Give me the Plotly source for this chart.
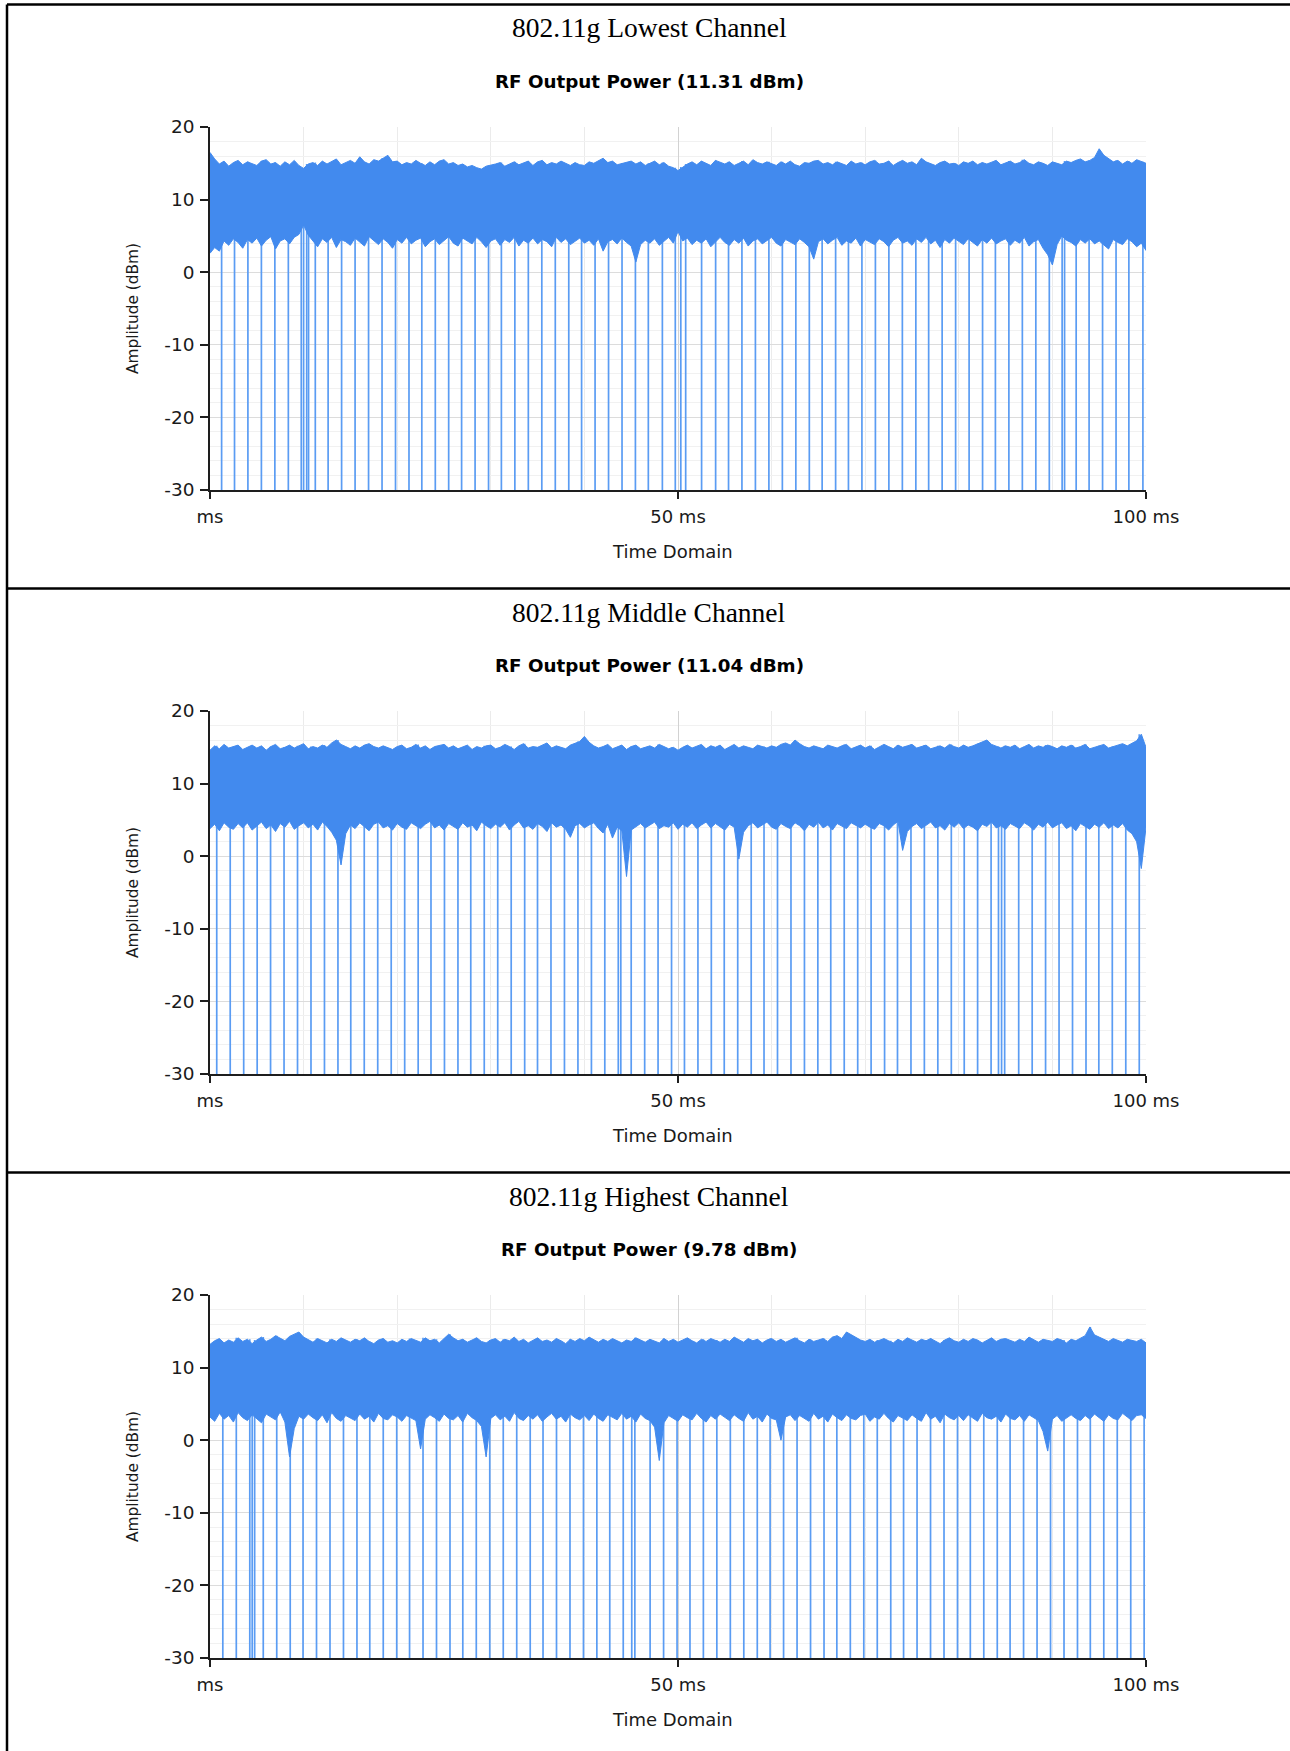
import plotly.graph_objects as go

# ---------------- data ----------------
time_ms = [k / 2 for k in range(201)]     # envelope sample times, 0..100 ms every 0.5 ms

# Lowest channel: upper / lower edge of the noise band (dBm), drop-out times (ms)
upper_low = [16.5, 15.6, 14.9, 15.3, 14.6, 15.1, 15.4, 14.8, 15.2, 15.0,
             14.7, 15.3, 15.5, 14.9, 15.1, 14.6, 15.2, 14.8, 15.4, 14.7,
             14.3, 14.9, 15.1, 14.7, 15.3, 14.9, 15.2, 15.6, 14.8, 15.1,
             15.4, 15.0, 15.9, 15.2, 14.9, 15.5, 15.3, 15.7, 16.1, 15.2,
             15.3, 14.8, 15.1, 14.9, 15.4, 15.0, 14.7, 15.2, 14.8, 15.3,
             15.5, 14.9, 15.1, 14.7, 14.9, 14.5, 14.7, 14.4, 14.2, 14.6,
             14.7, 14.9, 15.1, 14.6, 14.9, 15.2, 14.8, 15.0, 15.3, 14.7,
             15.2, 15.4, 14.8, 15.1, 14.9, 15.3, 15.0, 14.7, 15.1, 14.8,
             14.7, 15.2, 15.0, 15.4, 15.7, 15.1, 15.3, 14.8, 15.0, 15.2,
             15.3, 14.9, 15.2, 14.7, 15.0, 15.3, 14.8, 15.1, 14.6, 14.4,
             14.0, 14.5, 14.9, 15.2, 14.8, 15.3, 15.0, 14.7, 15.4, 15.1,
             14.9, 15.2, 14.7, 15.0, 15.3, 14.8, 15.5, 15.1, 14.9, 15.2,
             15.0, 14.7, 15.2, 14.9, 15.3, 14.8, 14.6, 15.1, 15.0, 15.3,
             15.4, 14.9, 15.1, 14.8, 15.2, 15.0, 14.7, 15.3, 14.9, 15.1,
             14.8, 15.2, 15.4, 14.9, 15.0, 15.3, 14.7, 15.1, 15.4, 15.0,
             15.2, 14.8, 15.7, 15.2, 15.0, 14.7, 15.1, 15.3, 14.9, 15.0,
             14.7, 15.2, 15.0, 15.3, 14.8, 15.1, 14.9, 15.2, 15.4, 14.8,
             15.0, 15.3, 14.9, 15.1, 15.5, 15.0, 14.8, 15.2, 15.0, 14.7,
             15.2, 15.0, 14.8, 15.3, 15.1, 15.4, 15.6, 15.2, 15.4, 15.8,
             17.0, 16.1, 15.6, 15.2, 15.4, 14.9, 15.3, 15.0, 15.5, 15.2,
             15.0]
lower_low = [2.6, 3.4, 2.9, 4.3, 3.7, 4.6, 4.1, 3.3, 4.5, 4.0,
             4.7, 3.6, 4.4, 4.9, 3.2, 4.3, 4.6, 3.9, 4.8, 5.2,
             6.5, 5.1, 4.3, 3.5, 4.6, 4.1, 4.8, 3.4, 4.5, 4.2,
             3.7, 4.7, 4.2, 3.6, 4.9, 4.3, 3.8, 4.6, 4.1, 3.3,
             4.5, 4.0, 4.8, 3.9, 4.4, 4.7, 3.5, 4.2, 4.6, 3.8,
             4.4, 4.9, 4.0, 3.6, 4.7, 4.3, 3.9, 4.8, 4.2, 3.4,
             4.3, 4.6, 3.7, 4.5, 4.1, 4.8, 3.6, 4.4, 4.0, 4.7,
             3.9, 4.5, 4.2, 3.5, 4.8, 4.1, 4.6, 3.8, 4.3, 4.7,
             4.0, 4.4, 3.7, 4.6, 2.9, 4.2, 4.5, 3.9, 4.7, 4.1,
             3.6, 1.4, 3.8, 4.4, 4.0, 4.6, 3.7, 4.3, 4.8, 4.0,
             5.6, 4.3, 4.7, 3.8, 4.4, 4.0, 4.6, 3.5, 4.2, 4.8,
             4.1, 3.7, 4.5, 4.0, 4.7, 3.6, 4.3, 4.6, 3.9, 4.4,
             4.8, 4.0, 3.6, 4.5, 4.2, 3.8, 4.6, 4.1, 3.5, 1.8,
             4.2, 4.6, 3.9, 4.4, 4.8, 3.7, 4.3, 4.0, 4.7, 3.6,
             4.5, 4.1, 3.8, 4.6, 4.2, 3.5, 4.4, 4.8, 4.0, 4.3,
             3.7, 4.6, 4.1, 4.8, 3.9, 4.4, 3.4, 4.5, 4.0, 4.7,
             4.2, 3.8, 4.6, 4.1, 3.6, 4.5, 4.0, 4.7, 3.9, 4.3,
             4.6, 3.7, 4.4, 4.0, 4.8, 3.6, 4.2, 4.5, 3.3, 2.4,
             1.0, 3.8, 5.0, 4.4, 4.1, 3.6, 4.5, 4.0, 4.6, 3.9,
             4.3, 3.7, 3.2, 4.5, 4.1, 3.8, 4.6, 4.2, 3.5, 4.0,
             3.0]
gaps_low = [1.24, 2.62, 4.05, 5.49, 6.93, 8.37, 9.75, 10.0, 10.33, 10.53, 11.25,
            12.62, 14.06, 15.5, 16.94, 18.38, 19.82, 21.26, 22.63, 24.07, 25.5,
            26.88, 28.32, 29.76, 31.13, 32.57, 34.01, 35.45, 36.89, 38.33, 39.7,
            41.14, 42.58, 44.02, 45.45, 46.83, 48.33, 49.71, 50.3, 50.82, 52.52,
            54.02, 55.4, 56.83, 58.27, 59.71, 61.15, 62.59, 64.03, 65.4, 66.84,
            68.21, 69.65, 71.09, 72.53, 73.97, 75.41, 76.78, 78.22, 79.66, 81.1,
            82.54, 83.91, 85.35, 86.79, 88.23, 89.67, 91.04, 91.3, 92.54, 93.92,
            95.36, 96.8, 98.17, 99.67]

# Middle channel
upper_mid = [14.6, 15.2, 14.8, 15.4, 14.9, 15.1, 15.3, 14.7, 15.0, 15.3,
             14.9, 15.2, 14.6, 15.1, 15.4, 14.8, 15.0, 15.3, 14.9, 15.2,
             15.5, 14.8, 15.1, 14.9, 15.3, 15.0, 15.6, 16.0, 15.4, 15.1,
             14.8, 15.2, 14.9, 15.3, 15.5, 15.1, 14.9, 15.2, 15.0, 14.7,
             15.1, 15.3, 14.8, 15.0, 15.4, 14.9, 15.2, 14.7, 15.1, 15.3,
             15.4, 14.9, 15.2, 14.8, 15.0, 15.3, 14.7, 15.1, 14.9, 15.2,
             15.3, 14.8, 15.0, 15.4, 15.1, 14.7, 15.2, 15.5, 14.9, 15.1,
             15.0, 15.3, 15.6, 14.9, 15.2, 15.0, 14.8, 15.3, 15.5, 15.8,
             16.5, 15.7, 15.2, 14.9, 15.1, 15.4, 14.8, 15.0, 15.3, 14.7,
             15.1, 15.3, 14.8, 15.0, 15.2, 14.9, 15.4, 15.1, 14.8, 15.0,
             14.6, 15.0, 15.3, 14.9, 15.1, 15.4, 14.8, 15.2, 15.0, 15.3,
             14.7, 15.1, 15.4, 14.9, 15.2, 15.0, 14.8, 15.3, 15.1, 14.9,
             15.2, 15.0, 15.4, 15.6, 15.3, 16.0, 15.5, 15.1, 14.9, 15.2,
             15.0, 14.8, 15.3, 15.1, 14.9, 15.2, 15.4, 14.8, 15.0, 15.3,
             14.9, 15.2, 14.7, 15.0, 15.4, 15.1, 14.8, 15.3, 15.0, 15.2,
             15.4, 14.9, 15.1, 15.3, 14.8, 15.0, 15.2, 14.9, 15.4, 15.1,
             14.9, 15.3, 15.0, 15.2, 15.5, 15.7, 16.0, 15.4, 15.1, 14.9,
             15.2, 15.0, 15.3, 14.8, 15.1, 15.4, 14.9, 15.2, 15.0, 15.3,
             15.1, 14.8, 15.2, 15.0, 15.3, 14.9, 15.1, 15.4, 14.8, 15.0,
             15.2, 15.4, 14.9, 15.1, 15.3, 15.5, 15.2, 15.6, 15.9, 16.8,
             15.0]
lower_mid = [3.8, 4.4, 3.5, 4.6, 4.0, 3.7, 4.5, 3.9, 4.6, 3.6,
             4.2, 4.7, 3.8, 4.3, 3.4, 4.5, 4.0, 4.8, 3.7, 4.2,
             4.6, 3.9, 4.4, 3.6, 4.7, 4.1, 3.3, 2.2, -1.2, 3.1,
             4.3, 3.8, 4.6, 4.0, 3.5, 4.4, 4.7, 3.9, 4.2, 3.6,
             4.5, 4.0, 3.7, 4.6, 4.2, 3.8, 4.4, 4.8, 3.9, 4.3,
             3.6, 4.5, 4.1, 3.7, 4.6, 4.0, 4.3, 3.5, 4.7, 4.2,
             3.8, 4.4, 4.0, 4.6, 3.6, 4.3, 4.8, 3.9, 4.2, 3.7,
             4.5, 4.1, 3.4, 4.6, 4.0, 4.3, 3.7, 2.6, 4.2, 4.5,
             3.9, 4.3, 4.6, 3.8, 3.2, 4.4, 2.5, 4.0, 3.5, -2.8,
             3.6, 4.1, 4.5, 3.9, 4.3, 4.7, 3.8, 4.2, 4.0, 4.6,
             3.7, 4.4, 4.0, 4.6, 3.8, 4.3, 4.7, 3.9, 4.5, 4.1,
             3.6, 4.4, 4.0, -0.4, 3.3, 4.2, 4.6, 3.9, 4.3, 4.7,
             4.0, 3.7, 4.5, 4.1, 3.8, 4.6, 4.2, 3.5, 4.4, 4.0,
             4.7, 3.9, 4.3, 3.6, 4.5, 4.1, 3.8, 4.6, 4.2, 3.9,
             4.4, 4.0, 3.7, 4.5, 4.2, 3.6, 4.3, 4.8, 0.8, 3.4,
             4.1, 4.5, 3.8, 4.3, 4.7, 3.9, 4.2, 3.6, 4.5, 4.0,
             4.6, 3.8, 4.3, 4.0, 3.5, 4.4, 4.1, 4.7, 3.9, 4.2,
             3.7, 4.5, 4.1, 3.8, 4.6, 4.2, 3.6, 4.4, 4.0, 4.7,
             3.9, 4.3, 4.6, 3.8, 4.2, 3.5, 4.5, 4.1, 3.7, 4.4,
             4.0, 4.6, 3.8, 4.3, 3.9, 4.5, 3.6, 3.1, 2.0, -1.7,
             4.0]
gaps_mid = [0.72, 2.16, 3.6, 5.04, 6.47, 7.91, 9.35, 10.79, 12.23, 13.67, 15.04,
            16.48, 17.92, 19.36, 20.8, 22.24, 23.61, 25.05, 26.49, 27.86, 29.3,
            30.74, 32.18, 33.62, 34.99, 36.43, 37.87, 39.31, 40.75, 42.18, 43.62,
            43.89, 45.0, 46.44, 47.87, 49.31, 50.69, 52.13, 53.56, 54.94, 56.38,
            57.82, 59.19, 60.63, 62.07, 63.51, 64.94, 66.32, 67.76, 69.2, 70.63,
            72.07, 73.45, 74.89, 76.32, 77.76, 79.2, 80.58, 82.01, 83.45, 84.24,
            84.57, 84.9, 86.4, 87.84, 89.27, 90.71, 92.15, 93.59, 94.96, 96.4,
            97.84, 99.28]

# Highest channel
upper_high = [13.2, 13.7, 14.0, 13.4, 13.8, 13.5, 14.1, 13.6, 13.9, 13.3,
              13.8, 14.2, 13.6, 13.9, 14.4, 14.0, 13.7, 14.3, 14.6, 14.9,
              14.2, 13.8, 13.5, 14.0, 13.7, 13.4, 13.9, 13.6, 14.1, 13.8,
              13.5, 13.9, 13.7, 14.1, 13.6, 13.3, 13.8, 14.0, 13.5, 13.7,
              13.4, 13.9, 13.6, 14.0, 13.8, 13.5, 14.1, 13.7, 13.9, 13.4,
              14.0, 14.6, 14.1, 13.7, 13.9, 13.5, 13.8, 14.1, 13.6, 13.4,
              13.8, 14.0, 13.5, 13.9, 13.7, 14.2, 13.6, 13.9, 13.4, 13.7,
              14.1, 13.6, 13.8, 13.5, 14.0, 13.7, 13.3, 13.9, 13.6, 14.0,
              13.7, 14.2, 13.8, 13.5, 13.9, 13.6, 14.0, 13.7, 13.4, 13.8,
              13.6, 14.1, 13.8, 13.5, 13.9, 13.7, 13.4, 14.0, 13.6, 13.9,
              13.5, 13.8, 14.1, 13.7, 13.4, 13.9, 13.6, 14.0, 13.8, 13.5,
              13.9, 13.6, 14.2, 13.8, 13.5, 14.0, 13.7, 13.9, 13.4, 13.8,
              14.0, 13.6, 13.9, 13.5, 13.8, 14.1, 13.7, 13.4, 13.9, 13.6,
              13.8, 14.0, 13.6, 14.2, 14.4, 14.0, 14.9, 14.5, 14.1, 13.8,
              13.6, 13.9, 13.5, 13.8, 14.0, 13.7, 13.4, 13.9, 13.6, 14.1,
              13.8, 13.5, 13.9, 13.7, 14.0, 13.6, 13.3, 13.8, 14.1, 13.7,
              13.5, 13.9, 13.6, 14.0, 13.8, 13.4, 13.7, 14.1, 13.6, 13.9,
              14.0, 13.7, 13.5, 13.9, 13.6, 14.2, 13.8, 13.5, 13.9, 13.7,
              13.6, 14.0, 13.8, 13.4, 13.9, 13.7, 14.1, 14.4, 15.6, 14.5,
              14.2, 13.9, 13.6, 14.0, 13.7, 13.5, 13.9, 13.8, 13.6, 13.9,
              13.4]
lower_high = [3.2, 2.6, 3.7, 2.9, 3.4, 2.5, 3.8, 3.1, 2.7, 3.5,
              3.0, 2.4, 3.6, 3.2, 2.8, 3.9, 2.5, -2.3, 1.6, 3.3,
              2.9, 3.6, 3.1, 2.7, 3.5, 2.4, 3.8, 3.0, 2.6, 3.4,
              3.1, 2.7, 3.6, 2.9, 3.3, 2.5, 3.7, 3.0, 2.8, 3.5,
              3.2, 2.6, 3.4, 3.0, 2.7, -1.2, 2.9, 3.5, 3.1, 2.6,
              3.6, 3.0, 2.8, 3.4, 2.5, 3.7, 3.1, 2.7, 1.9, -2.3,
              3.0, 3.5, 2.8, 3.3, 2.6, 3.8, 3.0, 2.7, 3.4, 2.9,
              3.5, 2.6, 3.2, 3.7, 2.9, 3.3, 2.5, 3.6, 3.1, 2.8,
              3.4, 2.7, 3.6, 3.0, 2.6, 3.5, 3.1, 2.8, 3.7, 2.9,
              3.3, 2.5, 3.6, 3.0, 2.7, 1.8, -2.8, 2.4, 3.4, 3.0,
              2.6, 3.5, 3.1, 2.8, 3.7, 3.0, 2.5, 3.4, 2.9, 3.6,
              3.1, 2.7, 3.5, 3.0, 2.6, 3.8, 2.9, 3.3, 2.5, 3.6,
              3.0, 2.8, 0.0, 3.2, 3.5, 2.7, 3.4, 3.0, 2.6, 3.7,
              2.9, 3.3, 2.5, 3.6, 3.1, 2.7, 3.5, 3.0, 2.8, 3.4,
              3.6, 2.6, 3.2, 2.9, 3.7, 3.0, 2.5, 3.4, 3.1, 2.7,
              3.5, 3.0, 2.6, 3.8, 2.9, 3.3, 2.4, 3.6, 3.1, 2.8,
              3.4, 2.7, 3.5, 3.0, 2.6, 3.7, 3.1, 2.9, 3.3, 2.5,
              3.6, 3.0, 2.8, 3.4, 2.6, 3.5, 3.1, 2.7, 1.2, -1.5,
              2.9, 3.4, 2.6, 3.1, 3.5, 3.0, 2.7, 3.4, 2.9, 3.6,
              3.1, 2.6, 3.5, 3.0, 2.8, 3.7, 3.2, 2.7, 3.4, 3.5,
              3.0]
gaps_high = [1.37, 2.81, 4.25, 4.51, 4.77, 5.69, 7.13, 8.57, 9.94, 11.38, 12.82,
             14.26, 15.7, 17.07, 18.51, 19.95, 21.32, 22.76, 24.2, 25.64, 27.01,
             28.45, 29.89, 31.33, 32.77, 34.21, 35.58, 37.02, 38.46, 39.9, 41.33,
             42.71, 44.15, 45.06, 45.39, 47.02, 48.46, 49.9, 51.28, 52.71, 54.15,
             55.59, 57.03, 58.47, 59.84, 61.28, 62.72, 64.16, 65.6, 66.97, 68.41,
             69.85, 71.29, 72.73, 74.1, 75.54, 76.98, 78.42, 79.86, 81.23, 82.67,
             84.11, 85.48, 86.92, 88.36, 89.8, 91.24, 92.68, 94.05, 95.49, 96.93,
             98.37, 99.8]

panel_titles = ["802.11g Lowest Channel", "802.11g Middle Channel", "802.11g Highest Channel"]
chart_titles = ["RF Output Power (11.31 dBm)", "RF Output Power (11.04 dBm)", "RF Output Power (9.78 dBm)"]
uppers = [upper_low, upper_mid, upper_high]
lowers = [lower_low, lower_mid, lower_high]
gaps = [gaps_low, gaps_mid, gaps_high]

x_tickvals = [0, 50, 100]
x_ticktext = ["ms", "50 ms", "100 ms"]
x_minor = [10, 20, 30, 40, 60, 70, 80, 90]
y_tickvals = [-30, -20, -10, 0, 10, 20]
y_ticktext = ["-30", "-20", "-10", "0", "10", "20"]

# ---------------- styling / layout ----------------
W, H = 1290, 1751
STEP = 584                    # vertical distance between panels (px)
PX0, PX1 = 210, 1146          # plot area left/right (px)
PY0, PY1 = 127, 490           # plot area top/bottom of first panel (px from top)
Y_RANGE = [-30, 20]
Y_FLOOR = -45                 # drop-outs fall below the visible range
BAND = "#428AEE"
DROP = "#5A9CF3"
AX = "#1e1e1e"
SANS = "DejaVu Sans"
SERIF = "Liberation Serif"
DT = time_ms[1] - time_ms[0]


def fy(px):
    return 1 - px / H


fig = go.Figure()
annotations = []
shapes = []
layout_axes = {}

for i in range(3):
    off = i * STEP
    sfx = "" if i == 0 else str(i + 1)
    xa, ya = "x" + sfx, "y" + sfx
    up, lo = uppers[i], lowers[i]

    # drop-out lines
    gx, gy = [], []
    for t in gaps[i]:
        gx += [t, t, None]
        gy += [up[int(round(t / DT))], Y_FLOOR, None]
    fig.add_trace(go.Scatter(x=gx, y=gy, mode="lines",
                             line=dict(color=DROP, width=1.7),
                             xaxis=xa, yaxis=ya, hoverinfo="skip", showlegend=False))
    # noise band
    fig.add_trace(go.Scatter(x=time_ms + time_ms[::-1], y=up + lo[::-1],
                             mode="lines", fill="toself", fillcolor=BAND,
                             line=dict(color=BAND, width=1),
                             xaxis=xa, yaxis=ya, hoverinfo="skip", showlegend=False))

    layout_axes["xaxis" + sfx] = dict(
        domain=[PX0 / W, PX1 / W], anchor=ya, range=[0, 100], automargin=False,
        tickmode="array", tickvals=x_tickvals, ticktext=x_ticktext,
        showgrid=True, gridcolor="#d2d2d2", gridwidth=1,
        minor=dict(tickmode="array", tickvals=x_minor, showgrid=True,
                   gridcolor="#ebebeb", gridwidth=1, ticks=""),
        showline=True, linecolor=AX, linewidth=1.5,
        ticks="outside", ticklen=7, tickwidth=1.5, tickcolor=AX,
        ticklabelstandoff=3,
        tickfont=dict(family=SANS, size=18, color="#1a1a1a"),
        zeroline=False, fixedrange=True,
    )
    layout_axes["yaxis" + sfx] = dict(
        domain=[fy(PY1 + off), fy(PY0 + off)], anchor=xa, range=Y_RANGE, automargin=False,
        tickmode="array", tickvals=y_tickvals, ticktext=y_ticktext,
        showgrid=True, gridcolor="#dcdcdc", gridwidth=1,
        minor=dict(dtick=2, tick0=0, showgrid=True, gridcolor="#f1f1f1",
                   gridwidth=1, ticks=""),
        showline=True, linecolor=AX, linewidth=1.5,
        ticks="outside", ticklen=8, tickwidth=1.5, tickcolor=AX,
        ticklabelstandoff=2,
        tickfont=dict(family=SANS, size=18.5, color="#1a1a1a"),
        zeroline=False, fixedrange=True,
    )

    annotations += [
        dict(text=panel_titles[i], x=649 / W, y=fy(28 + off), xref="paper", yref="paper",
             showarrow=False, xanchor="center", yanchor="middle",
             font=dict(family=SERIF, size=27.5, color="#000")),
        dict(text="<b>" + chart_titles[i] + "</b>", x=649 / W, y=fy(81.5 + off),
             xref="paper", yref="paper", showarrow=False, xanchor="center", yanchor="middle",
             font=dict(family=SANS, size=18.3, color="#000")),
        dict(text="Time Domain", x=672 / W, y=fy(551 + off), xref="paper", yref="paper",
             showarrow=False, xanchor="center", yanchor="middle",
             font=dict(family=SANS, size=18, color="#1a1a1a")),
        dict(text="Amplitude (dBm)", x=133 / W, y=fy(309 + off), xref="paper", yref="paper",
             showarrow=False, xanchor="center", yanchor="middle", textangle=-90,
             font=dict(family=SANS, size=15.4, color="#1a1a1a")),
    ]
    if i > 0:
        shapes.append(dict(type="line", xref="paper", yref="paper",
                           x0=7 / W, x1=1, y0=fy(off + 4.5), y1=fy(off + 4.5),
                           line=dict(color="#000", width=2.5)))

shapes += [
    dict(type="line", xref="paper", yref="paper", x0=7 / W, x1=1, y0=fy(4.5), y1=fy(4.5),
         line=dict(color="#000", width=2.5)),
    dict(type="line", xref="paper", yref="paper", x0=7 / W, x1=7 / W, y0=0, y1=fy(4.5),
         line=dict(color="#000", width=2.5)),
]

fig.update_layout(
    template="none",
    width=W, height=H, autosize=False,
    margin=dict(l=0, r=0, t=0, b=0, pad=0, autoexpand=False),
    paper_bgcolor="white", plot_bgcolor="white",
    showlegend=False, annotations=annotations, shapes=shapes,
    **layout_axes,
)

fig.write_html(
    "out.html",
    config={"responsive": False, "displayModeBar": False},
    post_script="document.body.style.margin='0';document.body.style.padding='0';"
                "document.documentElement.style.overflow='hidden';"
                "document.body.style.overflow='hidden';",
)
